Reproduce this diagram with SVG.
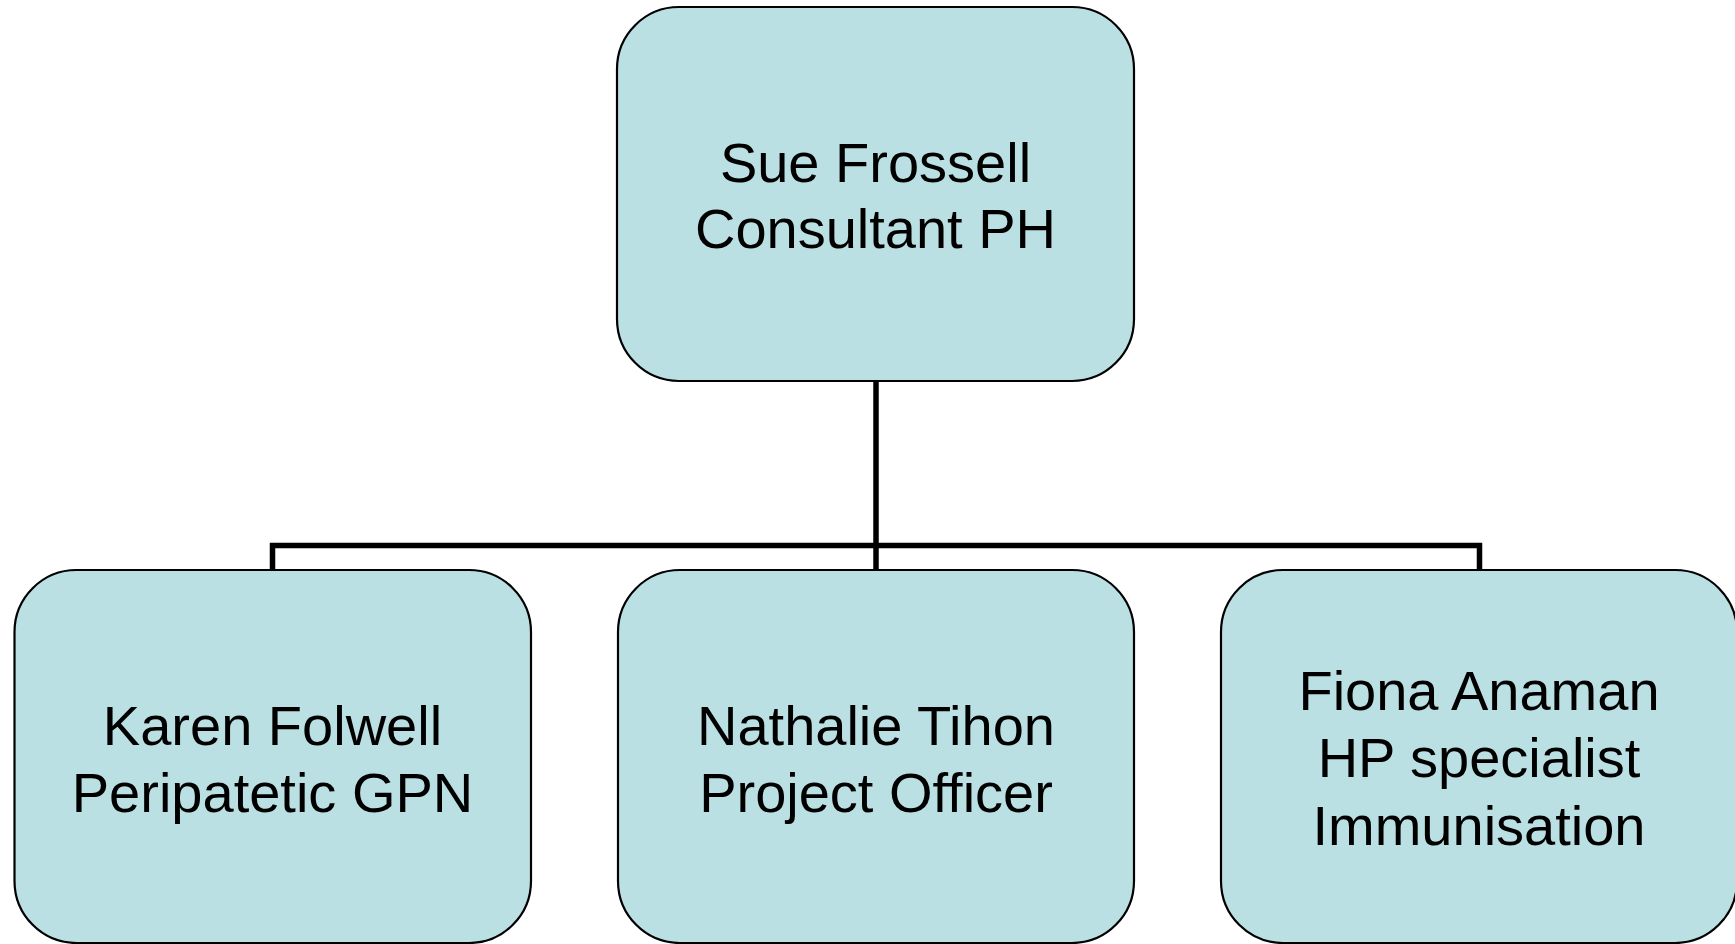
<svg xmlns="http://www.w3.org/2000/svg" width="1735" height="944" viewBox="0 0 1735 944">
<style>
.box{fill:#BBE0E3;stroke:#000;stroke-width:2.2}
.lbl{font-family:"Liberation Sans",Arial,sans-serif;font-size:56px;fill:#000;text-anchor:middle}
.conn{fill:none;stroke:#000;stroke-width:5.5}
</style>
<rect width="1735" height="944" fill="#fff"/>
<g id="connectors">
<path class="conn" d="M876,381 V570"/>
<path class="conn" d="M272.5,570 V545.5 H1479.5 V570"/>
</g>
<g id="node-sue">
<rect class="box" x="617" y="7" width="517" height="374" rx="62" ry="62"/>
<text class="lbl" x="875.5" y="182">Sue Frossell</text>
<text class="lbl" x="875.5" y="248">Consultant PH</text>
</g>
<g id="node-karen">
<rect class="box" x="14.5" y="570" width="516.5" height="373" rx="62" ry="62"/>
<text class="lbl" x="272.5" y="745">Karen Folwell</text>
<text class="lbl" x="272.5" y="812">Peripatetic GPN</text>
</g>
<g id="node-nathalie">
<rect class="box" x="618" y="570" width="516" height="373" rx="62" ry="62"/>
<text class="lbl" x="876" y="745">Nathalie Tihon</text>
<text class="lbl" x="876" y="812">Project Officer</text>
</g>
<g id="node-fiona">
<rect class="box" x="1221" y="570" width="516" height="373" rx="62" ry="62"/>
<text class="lbl" x="1479" y="710">Fiona Anaman</text>
<text class="lbl" x="1479" y="777">HP specialist</text>
<text class="lbl" x="1479" y="845">Immunisation</text>
</g>
</svg>
